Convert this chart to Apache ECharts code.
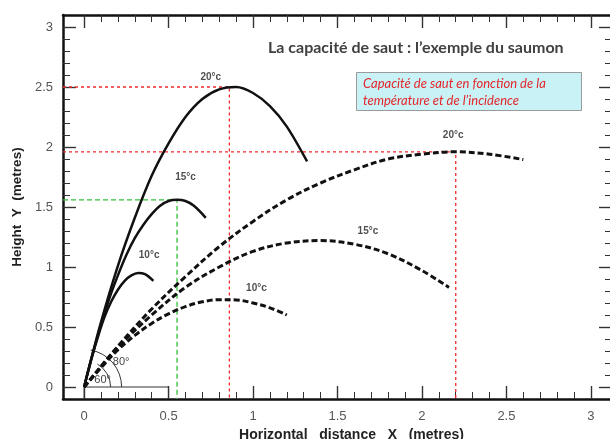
<!DOCTYPE html>
<html><head><meta charset="utf-8">
<script src="https://cdn.jsdelivr.net/npm/echarts@6/dist/echarts.min.js"></script>
<style>html,body{margin:0;padding:0;background:#fff}#c{width:610px;height:439px}</style>
</head><body><div id="c"></div>
<script>
// ---- tick values ----
const xMajorTicks = [0, 0.5, 1, 1.5, 2, 2.5, 3];
const yMajorTicks = [0, 0.5, 1, 1.5, 2, 2.5, 3];
const xMinorTicks = [0,0.1,0.2,0.3,0.4,0.5,0.6,0.7,0.8,0.9,1,1.1,1.2,1.3,1.4,1.5,1.6,1.7,1.8,1.9,2,2.1,2.2,2.3,2.4,2.5,2.6,2.7,2.8,2.9,3];
const yMinorTicks = [0,0.1,0.2,0.3,0.4,0.5,0.6,0.7,0.8,0.9,1,1.1,1.2,1.3,1.4,1.5,1.6,1.7,1.8,1.9,2,2.1,2.2,2.3,2.4,2.5,2.6,2.7,2.8,2.9,3];

// ---- trajectories (x, y in metres) ----
// 80° launch (solid)
const solid20 = [[0,0],[0.1,0.54],[0.2,1.01],[0.3,1.41],[0.4,1.76],[0.5,2.03],[0.6,2.25],[0.7,2.40],[0.8,2.48],[0.9,2.50],[1.0,2.45],[1.1,2.34],[1.2,2.17],[1.32,1.88]];
const solid15 = [[0,0],[0.05,0.27],[0.1,0.52],[0.15,0.74],[0.2,0.93],[0.25,1.10],[0.3,1.24],[0.35,1.35],[0.4,1.44],[0.45,1.51],[0.5,1.55],[0.55,1.56],[0.6,1.55],[0.65,1.51],[0.72,1.41]];
const solid10 = [[0,0],[0.04,0.22],[0.08,0.41],[0.12,0.58],[0.16,0.71],[0.2,0.81],[0.24,0.885],[0.28,0.93],[0.32,0.95],[0.36,0.94],[0.41,0.885]];
// 60° launch (dashed)
const dashed20 = [[0,0],[0.2,0.34],[0.4,0.65],[0.6,0.92],[0.8,1.17],[1.0,1.38],[1.2,1.56],[1.4,1.70],[1.6,1.81],[1.8,1.90],[2.0,1.94],[2.2,1.96],[2.4,1.94],[2.6,1.895]];
const dashed15 = [[0,0],[0.2,0.33],[0.4,0.60],[0.6,0.83],[0.8,1.00],[1.0,1.13],[1.2,1.20],[1.4,1.22],[1.6,1.19],[1.8,1.11],[2.0,0.97],[2.16,0.83]];
const dashed10 = [[0,0],[0.1,0.16],[0.2,0.31],[0.3,0.43],[0.4,0.53],[0.5,0.61],[0.6,0.67],[0.7,0.71],[0.8,0.728],[0.9,0.726],[1.0,0.70],[1.1,0.66],[1.2,0.60]];

// ---- guide lines to the apexes ----
const guideRed20 = [[-0.125,2.5],[0.86,2.5],[0.86,-0.1]];
const guideRedDashed20 = [[-0.125,1.96],[2.2,1.96],[2.2,-0.1]];
const guideGreen15 = [[-0.125,1.56],[0.55,1.56],[0.55,-0.1]];
const baseRect = [[0,-0.1],[0,0],[0.5,0],[0.5,-0.1]];

// ---- launch angles & curve labels ----
const launchAngles = [80, 60];
const curveLabels = [
  {name:'20°c', value:[0.75, 2.58]},
  {name:'15°c', value:[0.60, 1.75]},
  {name:'10°c', value:[0.385, 1.10]},
  {name:'20°c', value:[2.185, 2.10]},
  {name:'15°c', value:[1.68, 1.295]},
  {name:'10°c', value:[1.02, 0.82]}
];

const chart = echarts.init(document.getElementById('c'), null, {renderer:'canvas'});
const XMIN=-0.125, XMAX=3.125, YMIN=-0.1, YMAX=3.1;
const axisTitleStyle = {fontFamily:'Liberation Sans, Arial', fontWeight:'bold', fontSize:13.5, color:'#222'};
function xa(pos, major, withLine, withLabel){
  return {
    type:'value', min:XMIN, max:XMAX, position:pos,
    axisLine:{show:withLine, onZero:false, lineStyle:{color:'#111', width:2.5}},
    axisTick:{show:true, inside:true, length: major?13:7, customValues: major?xMajorTicks:xMinorTicks, lineStyle:{color:'#333', width: major?1.4:1}},
    axisLabel: withLabel ? {show:true, customValues:xMajorTicks, color:'#555', fontSize:13, fontFamily:'Liberation Sans, Arial', margin:11} : {show:false},
    splitLine:{show:false},
    name: withLabel ? 'Horizontal   distance   X   (metres)' : '',
    nameLocation:'middle', nameGap:23, nameTextStyle: Object.assign({}, axisTitleStyle, {fontSize:14, padding:[0,0,0,28]})
  };
}
function ya(pos, major, withLine, withLabel){
  return {
    type:'value', min:YMIN, max:YMAX, position:pos,
    axisLine:{show:withLine, onZero:false, lineStyle:{color:'#111', width:2.5}},
    axisTick:{show:true, inside:true, length: major?13:7, customValues: major?yMajorTicks:yMinorTicks, lineStyle:{color:'#333', width: major?1.4:1}},
    axisLabel: withLabel ? {show:true, customValues:yMajorTicks, color:'#555', fontSize:13, fontFamily:'Liberation Sans, Arial', margin:10} : {show:false},
    splitLine:{show:false},
    name: withLabel ? 'Height  Y  (metres)' : '',
    nameLocation:'middle', nameGap:38, nameRotate:90, nameTextStyle: axisTitleStyle
  };
}
const solidStyle = {color:'#111', width:2.5};
const dashStyle = {color:'#111', width:3, type:[6,3]};
function curve(data, style){
  return {type:'line', data, showSymbol:false, symbol:'none', smooth:0.35, lineStyle:style, silent:true, z:5, animation:false};
}
function guide(data, color, dash){
  return {type:'line', data, showSymbol:false, symbol:'none', smooth:false, lineStyle:{color, width:1.3, type:dash}, silent:true, z:3, animation:false};
}
chart.setOption({
  animation:false,
  backgroundColor:'#fff',
  grid:{left:63, top:15, width:549, height:384, containLabel:false, outerBoundsMode:'none'},
  title:{text:'La capacité de saut : l’exemple du saumon', left:268, top:40, padding:0,
    textStyle:{fontFamily:'Lato', fontWeight:'bold', fontSize:16, color:'#404040'}},
  xAxis:[xa('bottom',true,true,true), xa('bottom',false,false,false), xa('top',true,true,false), xa('top',false,false,false)],
  yAxis:[ya('left',true,true,true), ya('left',false,false,false), ya('right',true,true,false), ya('right',false,false,false)],
  graphic:[
    {type:'rect', left:356, top:72, shape:{width:225, height:38}, style:{fill:'#c8f2f6', stroke:'#9a9a9a', lineWidth:1}, z:10},
    {type:'text', left:363, top:75, style:{text:'Capacité de saut en fonction de la\ntempérature et de l’incidence', fill:'#e3262b', fontFamily:'Lato', fontStyle:'italic', fontSize:13, lineHeight:17}, z:11}
  ],
  series:[
    guide(guideRed20, '#f0282d', [3,3]),
    guide(guideRedDashed20, '#f0282d', [3,3]),
    guide(guideGreen15, '#33c033', [5,3]),
    {type:'line', data:baseRect, showSymbol:false, symbol:'none', lineStyle:{color:'#333', width:1}, silent:true, z:3},
    curve(solid20, solidStyle),
    curve(solid15, solidStyle),
    curve(solid10, solidStyle),
    curve(dashed20, dashStyle),
    curve(dashed15, dashStyle),
    curve(dashed10, dashStyle),
    {type:'custom', data: launchAngles.map(a => [0, 0, a]), silent:true, z:4,
      renderItem(params, api){
        const p = api.coord([api.value(0), api.value(1)]);
        const ang = api.value(2);
        const big = params.dataIndex === 0;
        const r = big ? 37.5 : 26.5;
        const off = big ? [37, -25] : [18.5, -7.5];
        return {type:'group', children:[
          {type:'arc', shape:{cx:p[0], cy:p[1], r, startAngle:-ang*Math.PI/180, endAngle:0, clockwise:true}, style:{stroke:'#333', fill:null, lineWidth:1}},
          {type:'text', style:{text: ang+'°', x:p[0]+off[0], y:p[1]+off[1], align:'center', verticalAlign:'middle', fontSize:11, fontFamily:'Liberation Sans, Arial', fill:'#444'}}
        ]};
      }},
    {type:'scatter', data:curveLabels, symbolSize:0, silent:true, z:6,
      label:{show:true, position:'inside', formatter:'{b}', fontFamily:'Liberation Sans, Arial', fontWeight:'bold', fontSize:10, color:'#222'}}
  ]
});
</script></body></html>
